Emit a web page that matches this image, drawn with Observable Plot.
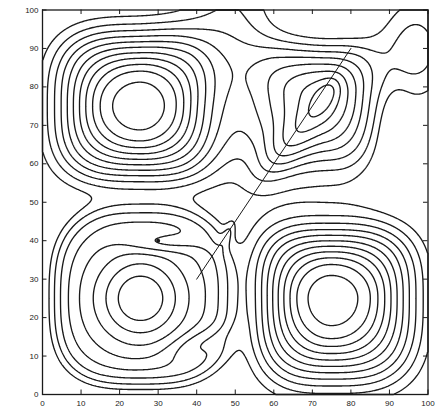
<!DOCTYPE html>
<html><head><meta charset="utf-8">
<script src="https://cdn.jsdelivr.net/npm/d3@7"></script>
<script src="https://cdn.jsdelivr.net/npm/@observablehq/plot@0.6"></script>
<style>body{margin:0;background:#fff}svg{display:block}</style>
</head><body><div id="chart"></div>
<script>
// tick labels
const xTicks = [0, 10, 20, 30, 40, 50, 60, 70, 80, 90, 100];
const yTicks = [0, 10, 20, 30, 40, 50, 60, 70, 80, 90, 100];
// four eddies: centre, strength, half-widths left/right/bottom/top, edge sharpness
const cellCx = [25, 73, 25.4, 75];
const cellCy = [75, 78, 25, 25];
const cellAmp = [1.0, 0.62, 0.45, 1.0];
const cellWl = [24, 21, 25, 21.5];
const cellWr = [21, 15, 25, 24];
const cellWb = [21.5, 23, 25, 25];
const cellWt = [21.5, 15, 25, 21];
const cellN = [2, 2, 6, 2];
// local features (cores, eddies, ridges, tongues)
const featX =   [25.4, 73,   97,   50,   31,    40,    48.2, 92,   63];
const featY =   [25,   77.3, 90,   100,  39.5,  13,    42,   68,   64];
const featAmp = [0.3,  0.1,  0.28, 0.22, -0.1,  -0.1,  0.1,  -0.1, 0.14];
const featSx =  [8,    4,    8,    9,    7,     6,     2.8,  2.5,  9];
const featSy =  [8,    1.8,  12,   28,   1.8,   2.5,   1.0,  7,    3.5];
const featAng = [0,    56,   0,    0,    0,     20,    70,   0,    50];
// contour levels
const levels = [0.92, 0.827, 0.755, 0.682, 0.61, 0.537, 0.464, 0.392, 0.319, 0.247, 0.174];
// trajectory and marker
const trackX = [40, 80];
const trackY = [30, 90];
const dotX = [30];
const dotY = [40];

const thresholds = levels.slice().sort(d3.ascending);
const cells = cellCx.map((x, i) => ({x, y: cellCy[i], a: cellAmp[i], wl: cellWl[i], wr: cellWr[i], wb: cellWb[i], wt: cellWt[i], n: cellN[i]}));
const feats = featX.map((x, i) => ({x, y: featY[i], a: featAmp[i], sx: featSx[i], sy: featSy[i], t: featAng[i] * Math.PI / 180}));
function field(x, y) {
  let v = 0;
  for (const c of cells) {
    const u = Math.abs((x - c.x) / (x < c.x ? c.wl : c.wr));
    const w = Math.abs((y - c.y) / (y < c.y ? c.wb : c.wt));
    const r = Math.hypot(u, w);
    const q = 2 + 1.1 * Math.min(1, Math.max(0, (r - 0.35) / 0.55));
    const rho = Math.pow(Math.pow(u, q) + Math.pow(w, q), 1 / q);
    v += c.a * (1 - Math.tanh(Math.pow(rho, c.n)));
  }
  for (const f of feats) {
    const dx = x - f.x, dy = y - f.y;
    const u = dx * Math.cos(f.t) + dy * Math.sin(f.t);
    const w = -dx * Math.sin(f.t) + dy * Math.cos(f.t);
    v += f.a * Math.exp(-0.5 * (u * u / (f.sx * f.sx) + w * w / (f.sy * f.sy)));
  }
  return v;
}
const W = 437, H = 409, mt = 9.5, mb = 15, ml = 42, mr = 9.5;
const ph = H - mt - mb, pw = W - ml - mr;
const ink = "#1a1a1a";
const chart = Plot.plot({
  width: W, height: H, marginTop: mt, marginBottom: mb, marginLeft: ml, marginRight: mr,
  style: {fontFamily: "'Liberation Sans', Arial, sans-serif", fontSize: "8px", color: "#222", background: "#fff"},
  x: {domain: [0, 100]},
  y: {domain: [0, 100]},
  marks: [
    Plot.contour({value: field, x1: 0, x2: 100, y1: 0, y2: 100, thresholds, pixelSize: 1, stroke: ink, strokeWidth: 1.35, fill: "none"}),
    Plot.line(trackX.map((x, i) => ({x, y: trackY[i]})), {x: "x", y: "y", stroke: ink, strokeWidth: 1}),
    Plot.dot(dotX.map((x, i) => ({x, y: dotY[i]})), {x: "x", y: "y", r: 2, fill: ink}),
    Plot.frame({stroke: ink, strokeWidth: 1.3}),
    Plot.tickX(xTicks, {x: d => d, insetTop: ph - 4.5, stroke: ink}),
    Plot.tickX(xTicks, {x: d => d, insetBottom: ph - 4.5, stroke: ink}),
    Plot.tickY(yTicks, {y: d => d, insetRight: pw - 4.5, stroke: ink}),
    Plot.tickY(yTicks, {y: d => d, insetLeft: pw - 4.5, stroke: ink}),
    Plot.axisX(xTicks, {tickSize: 0, tickPadding: 6, label: null}),
    Plot.axisY(yTicks, {tickSize: 0, tickPadding: 4, label: null})
  ]
});
document.getElementById("chart").append(chart);
</script>
</body></html>
